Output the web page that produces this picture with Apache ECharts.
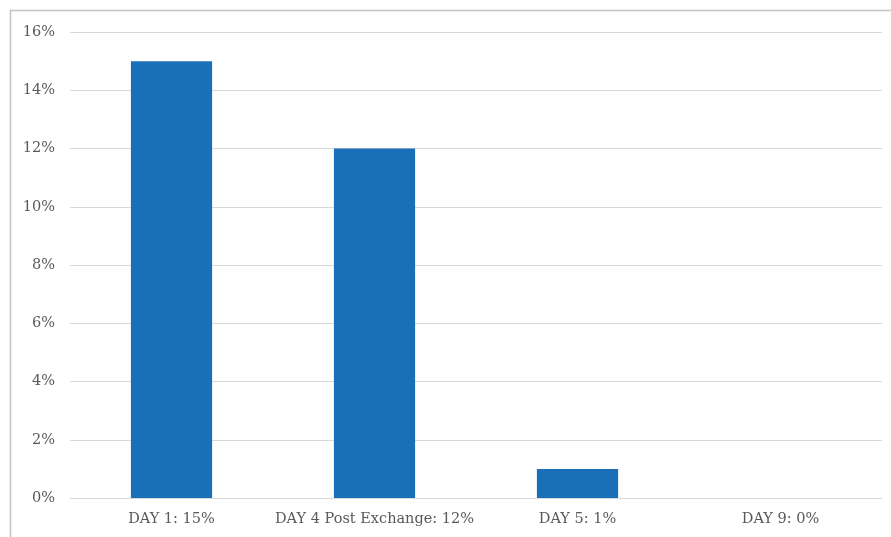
<!DOCTYPE html>
<html>
<head>
<meta charset="utf-8">
<script src="https://cdn.jsdelivr.net/npm/echarts@6/dist/echarts.min.js"></script>
<style>
  html, body { margin: 0; padding: 0; background: #fff; }
  #myChart { width: 891px; height: 537px; }
</style>
</head>
<body>
<div id="myChart"></div>
<script>
  // categories and values (percent)
  var categories = ['DAY 1: 15%', 'DAY 4 Post Exchange: 12%', 'DAY 5: 1%', 'DAY 9: 0%']
  var values = [15, 12, 1, 0]

  var myChart = echarts.init(document.getElementById('myChart'))
  var font = '"DejaVu Serif", "Liberation Serif", serif'

  myChart.setOption({
    backgroundColor: '#fff',
    animation: false,
    graphic: [
      {
        type: 'rect',
        shape: { x: 10.5, y: 10.5, width: 900, height: 600 },
        style: { fill: 'none', stroke: '#c4c4c4', lineWidth: 1.5 },
        silent: true
      }
    ],
    grid: {
      left: 70,
      right: 9,
      top: 32,
      bottom: 39
    },
    xAxis: {
      type: 'category',
      data: categories,
      axisLine: { show: true, lineStyle: { color: '#d9d9d9', width: 1 } },
      axisTick: { show: false },
      axisLabel: {
        interval: 0,
        hideOverlap: false,
        color: '#595959',
        fontFamily: font,
        fontSize: 14.5,
        margin: 14
      }
    },
    yAxis: {
      type: 'value',
      min: 0,
      max: 16,
      interval: 2,
      axisLine: { show: false },
      axisTick: { show: false },
      splitLine: { lineStyle: { color: '#d9d9d9', width: 1 } },
      axisLabel: {
        color: '#595959',
        fontFamily: font,
        fontSize: 14.5,
        margin: 15,
        formatter: '{value}%'
      }
    },
    series: [
      {
        type: 'bar',
        data: values,
        barWidth: '40%',
        itemStyle: { color: '#1a70b8' }
      }
    ]
  })
</script>
</body>
</html>
